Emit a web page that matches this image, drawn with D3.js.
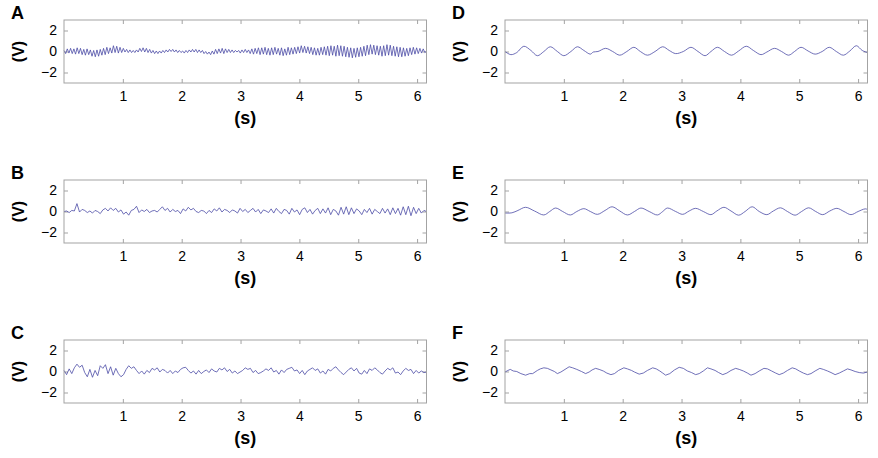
<!DOCTYPE html>
<html>
<head>
<meta charset="utf-8">
<script src="https://cdn.jsdelivr.net/npm/d3@7"></script>
<style>
  body { margin: 0; background: #fff; }
  svg { display: block; font-family: "Liberation Sans", Arial, sans-serif; }
</style>
</head>
<body>
<svg id="chart" width="878" height="458"></svg>
<script>
// Datos
const timeEnd = 6.16;
const xTicks = [1, 2, 3, 4, 5, 6];
const yTicks = [-2, 0, 2];
const panelLabels = ["A", "B", "C", "D", "E", "F"];

// A: muestras cada 0.028 s
const stepA = 0.028;
const sigA = [
  0.1,-0.2,0.25,-0.15,0.3,-0.2,0.25,-0.25,0.35,-0.2,
  0.3,-0.3,0.2,-0.35,0.25,-0.3,0.15,-0.45,0.1,-0.5,
  0.15,-0.45,0.2,-0.35,0.3,-0.3,0.4,-0.2,0.35,-0.15,
  0.55,-0.1,0.5,-0.15,0.4,-0.1,0.3,-0.05,0.2,-0.1,
  0.15,-0.1,0.1,-0.1,0.15,-0.05,0.3,0,0.35,-0.05,
  0.3,-0.1,0.2,-0.15,0.1,-0.2,0.05,-0.2,0.05,-0.15,
  0.1,-0.1,0.15,-0.05,0.2,0,0.2,-0.05,0.15,-0.1,
  0.1,-0.1,0.05,-0.15,0.1,-0.1,0.15,-0.05,0.2,-0.05,
  0.2,-0.1,0.15,-0.1,0.1,-0.2,0,-0.25,-0.05,-0.3,
  0.05,-0.25,0.2,-0.2,0.25,-0.15,0.3,-0.2,0.25,-0.1,
  0.2,-0.1,0.15,-0.1,0.1,-0.05,0.1,-0.15,0.15,-0.1,
  0.2,-0.1,0.15,-0.2,0.25,-0.25,0.3,-0.2,0.35,-0.3,
  0.35,-0.25,0.4,-0.3,0.3,-0.35,0.35,-0.3,0.4,-0.25,
  0.3,-0.35,0.35,-0.4,0.25,-0.35,0.4,-0.3,0.35,-0.25,
  0.4,-0.2,0.45,-0.15,0.55,-0.1,0.5,-0.15,0.45,-0.2,
  0.4,-0.3,0.35,-0.35,0.3,-0.35,0.4,-0.3,0.45,-0.35,
  0.5,-0.4,0.55,-0.35,0.5,-0.45,0.6,-0.4,0.55,-0.45,
  0.5,-0.5,0.4,-0.55,0.35,-0.6,0.3,-0.55,0.35,-0.5,
  0.4,-0.45,0.5,-0.4,0.6,-0.3,0.65,-0.25,0.6,-0.3,
  0.55,-0.35,0.5,-0.45,0.55,-0.4,0.65,-0.35,0.6,-0.4,
  0.5,-0.45,0.45,-0.5,0.4,-0.5,0.35,-0.45,0.3,-0.4,
  0.35,-0.3,0.4,-0.25,0.35,-0.2,0.3,-0.15,0.25,-0.1,
  0.05
];

// B, C: muestras cada 0.044 s
const stepBC = 0.044;
const sigB = [
  0,0.05,-0.1,0.1,0.05,0.75,-0.05,0.2,0.1,-0.1,
  0.05,-0.15,0.1,0,-0.2,0.15,0.3,0.05,0.35,0.1,
  0.3,-0.05,0.15,-0.25,-0.05,-0.35,0.1,0.2,0.5,-0.1,
  0.15,0,0.2,-0.1,0.05,0.1,-0.05,0.2,0.45,0.1,
  0.3,-0.05,0.2,0,0.1,-0.2,0.25,0.05,0.4,0.15,
  0.3,0,-0.1,0.1,0.05,-0.2,0.1,-0.1,0.25,0.05,
  0.35,-0.05,0.2,0.1,-0.1,0.15,0.05,-0.15,0.3,0,
  0.2,-0.1,0.1,0.3,-0.05,0.2,-0.2,0.15,0.05,-0.1,
  0.25,-0.15,0.3,0,-0.2,0.2,0.1,-0.25,0.3,-0.05,
  0.15,-0.3,0.2,0.35,-0.1,0.2,-0.25,0.1,0.3,-0.2,
  0.25,-0.15,0.35,-0.3,0.2,0.05,-0.35,0.4,-0.25,0.45,
  -0.3,0.35,-0.2,0.25,0.05,-0.3,0.2,-0.1,0.3,-0.25,
  0.2,0,-0.2,0.3,-0.15,0.25,-0.3,0.35,-0.2,0.3,
  -0.35,0.45,-0.3,0.5,-0.4,0.4,-0.2,0.3,-0.15,0.1,
  0
];
const sigC = [
  0.1,-0.3,0.25,-0.2,0.35,0.7,0.4,0.6,-0.1,-0.5,
  0.2,-0.55,0.1,-0.4,0.55,0.3,0.65,-0.2,0.45,-0.35,
  0.3,-0.2,-0.5,-0.3,0.2,0.55,0.3,0.45,0.1,-0.2,
  0.05,-0.25,0.1,-0.1,0.3,0.15,0.35,-0.05,0.2,0.1,
  -0.15,0.1,-0.2,0.05,-0.1,0.2,0.35,0.4,0.1,-0.15,
  0.05,-0.25,0.1,-0.2,0,0.15,-0.1,0.25,0.05,-0.05,
  0.3,0.15,0.35,0,0.2,-0.15,0.05,-0.2,-0.05,0.1,
  0.35,0.2,0.3,-0.1,0.1,-0.2,-0.1,0.05,0.25,0.1,
  0.35,-0.05,0.1,-0.25,0.15,-0.1,0.2,0.3,0.4,0.05,
  0.15,-0.2,0.1,-0.3,0.05,0.2,0.35,0.1,0.25,-0.15,
  0.05,-0.25,0.2,0.05,0.3,0.45,0.15,-0.1,-0.3,-0.05,
  0.2,0.35,0.05,0.3,-0.15,-0.25,0.1,-0.2,0.25,0.1,
  0.35,0.15,-0.1,-0.25,0.05,0.3,0.15,0.35,-0.15,-0.05,
  -0.3,0.05,0.3,0.1,0.2,-0.2,0.1,-0.15,0.05,-0.1,
  -0.05
];

const dTimes = [0,0.1,0.2,0.32,0.44,0.55,0.66,0.77,0.89,1.0,1.12,1.23,1.34,1.45,1.5,1.58,1.71,1.83,1.95,2.07,2.19,2.3,2.42,2.55,2.68,2.79,2.9,3.03,3.16,3.28,3.4,3.5,3.61,3.73,3.85,3.97,4.1,4.22,4.35,4.45,4.58,4.7,4.82,4.92,5.03,5.15,5.27,5.39,5.51,5.63,5.75,5.86,5.97,6.07,6.16];
const dValues = [0,-0.3,-0.1,0.5,0.1,-0.4,0,0.45,0,-0.4,0,0.45,0.1,-0.25,-0.05,0,0.3,0,-0.35,0,0.4,0,-0.35,0,0.45,0.1,-0.2,0,0.4,0,-0.4,0,0.4,0,-0.35,0.05,0.5,0.1,-0.3,-0.05,0.3,0,-0.35,0,0.4,0.05,-0.25,0,0.4,0,-0.35,0.05,0.55,0.1,-0.1];

const eTimes = [0,0.12,0.22,0.35,0.5,0.66,0.76,0.86,0.98,1.11,1.22,1.34,1.45,1.57,1.7,1.82,1.95,2.08,2.2,2.31,2.45,2.59,2.68,2.76,2.9,3.02,3.13,3.24,3.37,3.5,3.6,3.72,3.84,3.97,4.08,4.2,4.32,4.45,4.56,4.68,4.8,4.93,5.04,5.16,5.28,5.4,5.52,5.64,5.76,5.88,6.0,6.12,6.16];
const eValues = [-0.15,-0.12,0.1,0.4,0.05,-0.33,0,0.33,0,-0.33,0,0.27,0,-0.27,0.1,0.45,0.05,-0.33,0,0.33,0,-0.33,0,0.33,0,-0.27,0.05,0.3,0,-0.3,0.05,0.4,0.05,-0.35,0,0.45,0,-0.3,0.05,0.35,0,-0.35,0,0.35,0,-0.3,0.05,0.3,0,-0.3,0,0.25,0.2];

const fTimes = [0,0.05,0.09,0.14,0.2,0.27,0.35,0.42,0.47,0.55,0.6,0.66,0.72,0.78,0.84,0.89,0.95,1.02,1.09,1.15,1.22,1.3,1.37,1.43,1.48,1.54,1.6,1.67,1.73,1.8,1.86,1.93,2.02,2.08,2.15,2.2,2.28,2.35,2.42,2.51,2.57,2.63,2.68,2.73,2.8,2.88,2.96,3.03,3.1,3.17,3.24,3.3,3.37,3.44,3.5,3.57,3.63,3.7,3.77,3.84,3.92,3.98,4.05,4.12,4.18,4.25,4.32,4.4,4.46,4.53,4.6,4.66,4.73,4.8,4.88,4.94,5.0,5.07,5.14,5.2,5.27,5.35,5.41,5.48,5.54,5.61,5.68,5.75,5.82,5.88,5.95,6.02,6.09,6.16];
const fValues = [-0.05,0.1,0.2,0.05,0,-0.2,-0.35,-0.2,-0.2,0.1,0.25,0.35,0.3,0.15,0,-0.2,-0.05,0.2,0.45,0.35,0.2,0,-0.2,-0.05,0.15,0.3,0.2,0.05,-0.15,-0.3,-0.2,0.1,0.35,0.25,0.1,-0.05,-0.25,-0.15,0.1,0.35,0.25,0.05,-0.15,-0.35,-0.2,0.15,0.4,0.3,0.05,-0.1,-0.3,-0.2,0.05,0.35,0.25,0.1,-0.1,-0.3,-0.15,0.1,0.3,0.2,0.05,-0.15,-0.35,-0.2,0.05,0.3,0.25,0.05,-0.15,-0.3,-0.15,0.1,0.35,0.25,0.05,-0.15,-0.3,-0.2,0.05,0.3,0.2,0.05,-0.1,-0.3,-0.15,0.05,0.25,0.15,0,-0.1,-0.15,-0.05];

// Armar series como pares {t, v}
const sampled = (vals, step) => vals.map((v, i) => ({ t: i * step, v }));
const paired = (ts, vs) => ts.map((t, i) => ({ t, v: vs[i] }));

const series = [
  { data: sampled(sigA, stepA), curve: d3.curveLinear },
  { data: sampled(sigB, stepBC), curve: d3.curveLinear },
  { data: sampled(sigC, stepBC), curve: d3.curveLinear },
  { data: paired(dTimes, dValues), curve: d3.curveCatmullRom },
  { data: paired(eTimes, eValues), curve: d3.curveCatmullRom },
  { data: paired(fTimes, fValues), curve: d3.curveLinear }
];

// Layout
const colLeft = [64, 505];
const plotW = 362.5;
const rowTop = [20, 180, 340];
const plotH = 63;
const frameColor = "#a3a3a3";
const traceColor = "#4b4ba6";
const fmt = d3.format("d");

const svg = d3.select("#chart");

series.forEach((s, k) => {
  const col = Math.floor(k / 3);
  const row = k % 3;
  const x0 = colLeft[col];
  const y0 = rowTop[row];

  const xScale = d3.scaleLinear().domain([0, timeEnd]).range([x0, x0 + plotW]);
  const yScale = d3.scaleLinear().domain([-3, 3]).range([y0 + plotH, y0]);

  const g = svg.append("g");

  // ejes con ticks hacia adentro (estilo MATLAB)
  const bottom = g.append("g")
    .attr("transform", `translate(0, ${y0 + plotH})`)
    .call(d3.axisBottom(xScale).tickValues(xTicks).tickSizeInner(-4).tickSizeOuter(0).tickPadding(8).tickFormat(fmt));
  const top = g.append("g")
    .attr("transform", `translate(0, ${y0})`)
    .call(d3.axisTop(xScale).tickValues(xTicks).tickSizeInner(-4).tickSizeOuter(0).tickFormat(""));
  const left = g.append("g")
    .attr("transform", `translate(${x0}, 0)`)
    .call(d3.axisLeft(yScale).tickValues(yTicks).tickSizeInner(-4).tickSizeOuter(0).tickPadding(7).tickFormat(fmt));
  const right = g.append("g")
    .attr("transform", `translate(${x0 + plotW}, 0)`)
    .call(d3.axisRight(yScale).tickValues(yTicks).tickSizeInner(-4).tickSizeOuter(0).tickFormat(""));

  [bottom, top, left, right].forEach(a => {
    a.select(".domain").remove();
    a.selectAll("line").attr("stroke", frameColor);
    a.selectAll("text").attr("fill", "#000").attr("font-size", 14)
      .attr("font-family", "'Liberation Sans', Arial, sans-serif");
  });

  // señal
  const line = d3.line()
    .x(d => xScale(d.t))
    .y(d => yScale(d.v))
    .curve(s.curve);

  g.append("path")
    .datum(s.data)
    .attr("d", line)
    .attr("fill", "none")
    .attr("stroke", traceColor)
    .attr("stroke-width", 0.8);

  // marco
  g.append("rect")
    .attr("x", x0)
    .attr("y", y0)
    .attr("width", plotW)
    .attr("height", plotH)
    .attr("fill", "none")
    .attr("stroke", frameColor);

  // etiquetas
  g.append("text")
    .attr("x", x0 - 53)
    .attr("y", y0 - 1)
    .attr("font-size", 18)
    .attr("font-weight", "bold")
    .text(panelLabels[k]);

  g.append("text")
    .attr("transform", `translate(${x0 - 40}, ${yScale(0)}) rotate(-90)`)
    .attr("text-anchor", "middle")
    .attr("font-size", 16)
    .attr("font-weight", "bold")
    .text("(V)");

  g.append("text")
    .attr("x", x0 + plotW / 2)
    .attr("y", y0 + plotH + 41)
    .attr("text-anchor", "middle")
    .attr("font-size", 18)
    .attr("font-weight", "bold")
    .text("(s)");
});
</script>
</body>
</html>
